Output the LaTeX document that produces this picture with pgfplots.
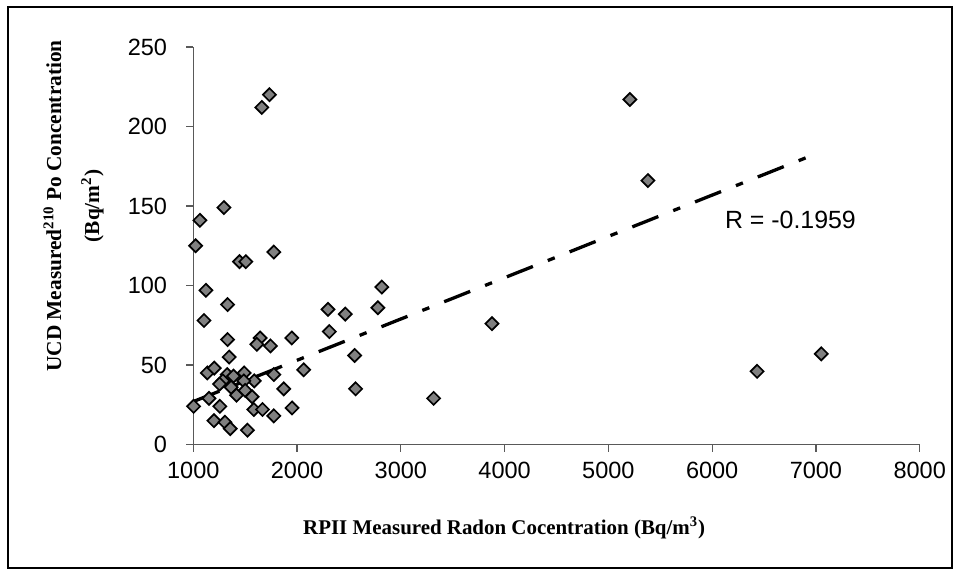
\documentclass[border=0pt]{standalone}
\usepackage{fontspec}
\setmainfont{Liberation Serif}
\newfontfamily\arial{Liberation Sans}
\usepackage{pgfplots}
\pgfplotsset{compat=1.18}
\definecolor{markgray}{HTML}{808080}
\definecolor{axisgray}{HTML}{595959}

\begin{document}
\begin{tikzpicture}
% page frame (958x575 px at 0.5bp per px)
\path[use as bounding box] (0bp,0bp) rectangle (479bp,287.5bp);
\draw[line width=0.6bp, black] (4bp,3.5bp) rectangle (476bp,284bp);
\begin{axis}[
  at={(96.65bp,65.25bp)}, anchor=south west,
  scale only axis, width=363.2bp, height=198.75bp,
  xmin=1000, xmax=8000, ymin=0, ymax=250,
  xtick={1000,2000,...,8000}, ytick={0,50,...,250},
  axis x line*=bottom, axis y line*=left,
  axis line style={-, axisgray, line width=0.6bp},
  every tick/.style={axisgray, line width=0.6bp},
  tick align=outside, major tick length=3.6bp,
  /pgf/number format/assume math mode=true,
  /pgf/number format/1000 sep={},
  tick label style={font=\arial\fontsize{11.8}{13}\selectfont},
  xticklabel style={yshift=-1.5bp},
  yticklabel style={xshift=-6bp},
  xlabel={\textbf{RPII Measured Radon Cocentration (Bq/m\textsuperscript{3})}},
  xlabel style={at={(axis description cs:0.428,-0.21)}, anchor=center, font=\fontsize{10.5}{12}\selectfont},
  ylabel={\textbf{UCD Measured\textsuperscript{210} Po Concentration}\\\textbf{(Bq/m\textsuperscript{2})}},
  ylabel style={at={(axis description cs:-0.165,0.6)}, anchor=center, align=center, font=\fontsize{10.7}{19}\selectfont},
  clip=false,
]
% trend line
\addplot[black, line width=1.65bp, line cap=butt, dash pattern=on 14bp off 8bp on 3.75bp off 8bp]
  coordinates {(1000,27) (6930,181)};
% measurements
\addplot[only marks, mark=square*, mark size=2.3bp,
  mark options={rotate=45, fill=markgray, draw=black, line width=0.85bp}]
  coordinates {
  (1734,220) (1660,212) (1064,141) (1295,149) (1022,125) (1776,121)
  (1445,115) (1506,115) (5207,217) (5381,166) (1122,97) (1330,88)
  (1103,78) (2298,85) (2465,82) (2779,86) (2817,99) (2311,71)
  (1949,67) (1330,66) (1644,67) (1612,63) (1743,62) (1346,55)
  (2555,56) (2064,47) (1135,45) (1202,48) (1327,44) (1388,43)
  (1490,45) (1587,40) (1487,40) (1776,44) (1285,40) (1253,38)
  (1365,36) (1417,31) (1500,34) (1567,30) (1872,35) (2564,35)
  (1003,24) (1151,29) (1256,24) (1952,23) (1583,22) (1667,22)
  (1776,18) (1199,15) (1305,14) (1356,10) (1522,9) (3878,76)
  (3316,29) (6433,46) (7052,57)
  };
\node[anchor=west, font=\arial\fontsize{12.5}{14}\selectfont, inner sep=0pt] at (axis cs:6120,141) {R = -0.1959};
\end{axis}
\end{tikzpicture}
\end{document}
